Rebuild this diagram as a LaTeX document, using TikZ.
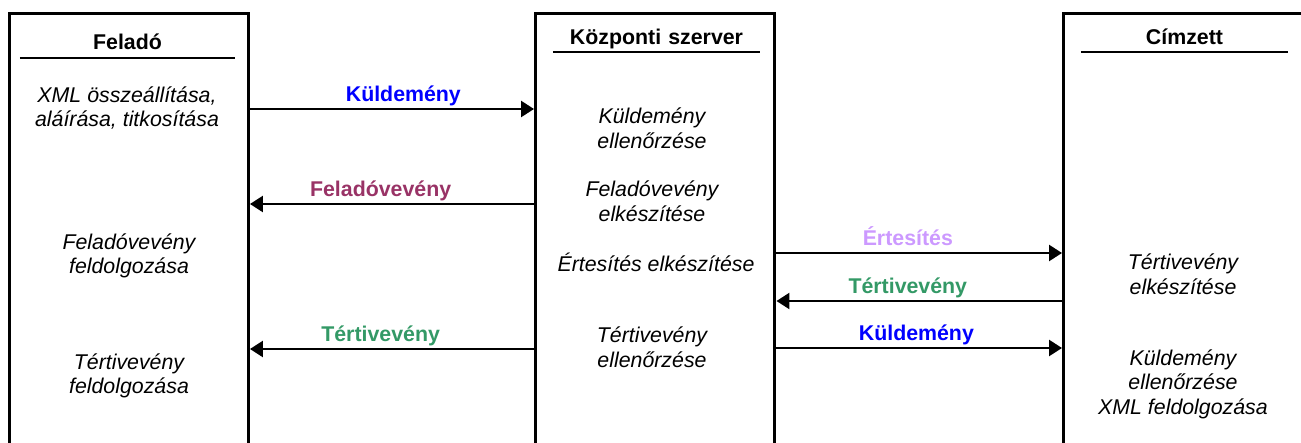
\documentclass[tikz,border=0pt]{standalone}
\usepackage{fontspec}
\setmainfont{Liberation Sans}
\usepackage{tikz}
\usetikzlibrary{arrows.meta}

\definecolor{kuldcolor}{HTML}{0000FF}
\definecolor{feladcolor}{HTML}{993366}
\definecolor{ertcolor}{HTML}{CC99FF}
\definecolor{tertcolor}{HTML}{339966}

\tikzset{
  lane/.style={draw, line width=2.25pt, minimum width=179.6pt, minimum height=345pt,
    anchor=north west, inner sep=0pt},
  lanetitle/.style={font=\fontsize{16}{18.4}\selectfont\bfseries, anchor=base,
    inner xsep=0pt, inner ysep=0pt, text depth=5.5pt, text width=#1, align=center},
  task/.style={font=\fontsize{16}{18.4}\selectfont\itshape, align=center, inner sep=0pt},
  msg/.style={line width=1.9pt, -{Triangle[length=9.75pt,width=12pt]}},
  lbl/.style={font=\fontsize{16}{18.4}\selectfont\bfseries, inner sep=0pt,
    text depth=4.5pt, above}
}

\begin{document}
\begin{tikzpicture}[x=0.75pt,y=-0.75pt]
      \useasboundingbox (0,0) rectangle (1301,442);
      \clip (0,0) rectangle (1301,442);

      % Lanes
      \node [lane] (sender) at (7.5,12.5) {};
      \node [lane] (server) at (534,12.5) {};
      \node [lane] (recipient) at (1062,12.5) {};

      % Titles
      \node [lanetitle=161pt] (sendertitle) at (127.5,50) {Feladó};
      \node [lanetitle=155pt] (servertitle) at (656.5,44.5) {Központi szerver};
      \node [lanetitle=155pt] (recipienttitle) at (1184.5,44.5) {Címzett};
      \draw [line width=1.5pt] (sendertitle.south west) -- (sendertitle.south east);
      \draw [line width=1.5pt] (servertitle.south west) -- (servertitle.south east);
      \draw [line width=1.5pt] (recipienttitle.south west) -- (recipienttitle.south east);

      % Sender tasks
      \node [task] (sxml) at (127,108) {XML összeállítása,\\aláírása, titkosítása};
      \node [task] (sfelad) at (129,256) {Feladóvevény\\feldolgozása};
      \node [task] (stert) at (129,376) {Tértivevény\\feldolgozása};

      % Server tasks
      \node [task] (vkuld) at (652,128) {Küldemény\\ellenőrzése};
      \node [task] (vfelad) at (652,201) {Feladóvevény\\elkészítése};
      \node [task] (vert) at (656,262) {Értesítés elkészítése};
      \node [task] (vtert) at (652,347) {Tértivevény\\ellenőrzése};

      % Recipient tasks
      \node [task] (rtert) at (1183,274) {Tértivevény\\elkészítése};
      \node [task] (rkuld) at (1183,384) {Küldemény\\ellenőrzése\\XML feldolgozása};

      % Messages
      \draw [msg] (sender.east |- 0,109) -- node [lbl,pos=0.54,kuldcolor] {Küldemény} (server.west |- 0,109);
      \draw [msg] (server.west |- 0,204) -- node [lbl,pos=0.54,feladcolor] {Feladóvevény} (sender.east |- 0,204);
      \draw [msg] (server.west |- 0,349) -- node [lbl,pos=0.54,tertcolor] {Tértivevény} (sender.east |- 0,349);
      \draw [msg] (server.east |- 0,253) -- node [lbl,pos=0.46,ertcolor] {Értesítés} (recipient.west |- 0,253);
      \draw [msg] (recipient.west |- 0,301) -- node [lbl,pos=0.54,tertcolor] {Tértivevény} (server.east |- 0,301);
      \draw [msg] (server.east |- 0,348) -- node [lbl,pos=0.49,kuldcolor] {Küldemény} (recipient.west |- 0,348);
\end{tikzpicture}
\end{document}
